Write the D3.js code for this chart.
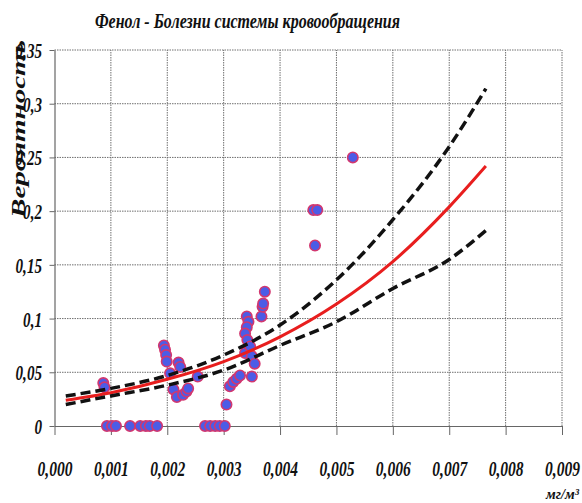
<!DOCTYPE html>
<html>
<head>
<meta charset="utf-8">
<script src="https://cdn.jsdelivr.net/npm/d3@7"></script>
<style>
  html, body { margin: 0; padding: 0; background: #fff; }
  svg { display: block; }
  .lbl { font-family: "Liberation Serif", "DejaVu Serif", serif; font-weight: bold; font-style: italic; fill: #111; }
</style>
</head>
<body>
<svg id="chart" width="582" height="503"></svg>
<script>
// Axis ticks and their labels
const xTicks = [0, 0.001, 0.002, 0.003, 0.004, 0.005, 0.006, 0.007, 0.008, 0.009];
const xTickLabels = ["0,000", "0,001", "0,002", "0,003", "0,004", "0,005", "0,006", "0,007", "0,008", "0,009"];
const yTicks = [0, 0.05, 0.1, 0.15, 0.2, 0.25, 0.3, 0.35];
const yTickLabels = ["0", "0,05", "0,1", "0,15", "0,2", "0,25", "0,3", "0,35"];

// Observed probabilities (concentration, mg/m3 -> probability)
const obsX = [
  0.00093, 0.00102, 0.00109, 0.00134, 0.00152, 0.00162, 0.00169, 0.00182,
  0.00267, 0.00276, 0.00285, 0.00293, 0.00302,
  0.000865, 0.000887,
  0.00194, 0.00196, 0.00198, 0.00199, 0.00205, 0.00211, 0.00217, 0.00220, 0.00223,
  0.00228, 0.00234, 0.00237, 0.00254,
  0.00305, 0.00311, 0.00317, 0.00323, 0.00329, 0.00338, 0.00341, 0.00344, 0.00341,
  0.00338, 0.00342, 0.00347, 0.00350, 0.00355, 0.00350,
  0.00367, 0.00369, 0.00370, 0.00373,
  0.00459, 0.00466, 0.00462, 0.00529
];
const obsY = [
  0, 0, 0, 0, 0, 0, 0, 0,
  0, 0, 0, 0, 0,
  0.040, 0.036,
  0.075, 0.071, 0.066, 0.060, 0.049, 0.034, 0.027, 0.059, 0.055,
  0.029, 0.032, 0.035, 0.046,
  0.020, 0.037, 0.041, 0.044, 0.047, 0.068, 0.102, 0.097, 0.092,
  0.086, 0.080, 0.074, 0.065, 0.058, 0.046,
  0.102, 0.111, 0.114, 0.125,
  0.201, 0.201, 0.168, 0.250
];

// Fitted probability curve with its confidence band
const fitX     = [0.0002, 0.001, 0.002, 0.003, 0.004, 0.005, 0.006, 0.007, 0.00765];
const fitMid   = [0.024, 0.031, 0.0435, 0.060, 0.083, 0.1135, 0.153, 0.204, 0.242];
const fitUpper = [0.028, 0.035, 0.047, 0.066, 0.094, 0.136, 0.192, 0.260, 0.314];
const fitLower = [0.020, 0.028, 0.038, 0.052, 0.075, 0.097, 0.128, 0.155, 0.182];

const svg = d3.select("#chart");

const x = d3.scaleLinear().domain([0, 0.009]).range([54.5, 562]);
const y = d3.scaleLinear().domain([0, 0.35]).range([426, 50]);

// Dotted grid
const grid = svg.append("g");
grid.selectAll("line.v").data(xTicks.slice(1)).join("line")
  .attr("x1", d => x(d)).attr("x2", d => x(d))
  .attr("y1", y(0)).attr("y2", y(0.35))
  .attr("stroke", "#6f6f6f").attr("stroke-width", 1).attr("stroke-dasharray", "1.5,1");
grid.selectAll("line.h").data(yTicks.slice(1)).join("line")
  .attr("x1", x(0)).attr("x2", x(0.009))
  .attr("y1", d => y(d)).attr("y2", d => y(d))
  .attr("stroke", "#6f6f6f").attr("stroke-width", 1).attr("stroke-dasharray", "1.5,1");

// Axes
const xAxis = svg.append("g").attr("transform", `translate(0,${y(0)})`)
  .call(d3.axisBottom(x).tickValues(xTicks).tickSize(9).tickSizeOuter(0)
    .tickFormat((d, i) => xTickLabels[i]));
const yAxis = svg.append("g").attr("transform", `translate(${x(0)},0)`)
  .call(d3.axisLeft(y).tickValues(yTicks).tickSize(5).tickSizeOuter(0)
    .tickFormat((d, i) => yTickLabels[i]));

[xAxis, yAxis].forEach(a => {
  a.select(".domain").attr("stroke", "#666").attr("stroke-width", 1.2);
  a.selectAll(".tick line").attr("stroke", "#666").attr("stroke-width", 1);
});

xAxis.selectAll(".tick text")
  .attr("class", "lbl")
  .attr("font-size", 21)
  .attr("y", 50).attr("dy", 0)
  .attr("transform", "scale(0.74,1)");

yAxis.selectAll(".tick text")
  .attr("class", "lbl")
  .attr("font-size", 21)
  .attr("x", -12.5 / 0.72).attr("dy", "0.36em")
  .attr("transform", "scale(0.72,1)");

// Observations
const pts = d3.range(obsX.length).map(i => [obsX[i], obsY[i]]);
svg.append("g").selectAll("circle").data(pts).join("circle")
  .attr("cx", d => x(d[0])).attr("cy", d => y(d[1])).attr("r", 5.2)
  .attr("fill", "#4c5ce6").attr("stroke", "#d2376f").attr("stroke-width", 1.6);

// Fitted curves
const line = (vals) => d3.line().curve(d3.curveMonotoneX)
  .x((d, i) => x(fitX[i])).y(d => y(d))(vals);

svg.append("path").attr("d", line(fitMid))
  .attr("fill", "none").attr("stroke", "#e81e1e").attr("stroke-width", 3);
[fitUpper, fitLower].forEach(vals => {
  svg.append("path").attr("d", line(vals))
    .attr("fill", "none").attr("stroke", "#111").attr("stroke-width", 3.5)
    .attr("stroke-dasharray", "10,5");
});

// Title and axis titles
svg.append("text").attr("class", "lbl")
  .attr("x", 95).attr("y", 28)
  .attr("font-size", 20)
  .attr("textLength", 305).attr("lengthAdjust", "spacingAndGlyphs")
  .text("Фенол - Болезни системы кровообращения");

svg.append("text").attr("class", "lbl")
  .attr("transform", "translate(25,218) rotate(-90)")
  .attr("font-size", 18)
  .attr("textLength", 178).attr("lengthAdjust", "spacingAndGlyphs")
  .text("Вероятность");

svg.append("text").attr("class", "lbl")
  .attr("x", 546).attr("y", 499)
  .attr("font-size", 15).attr("font-weight", "normal")
  .attr("textLength", 33).attr("lengthAdjust", "spacingAndGlyphs")
  .text("мг/м³");
</script>
</body>
</html>
